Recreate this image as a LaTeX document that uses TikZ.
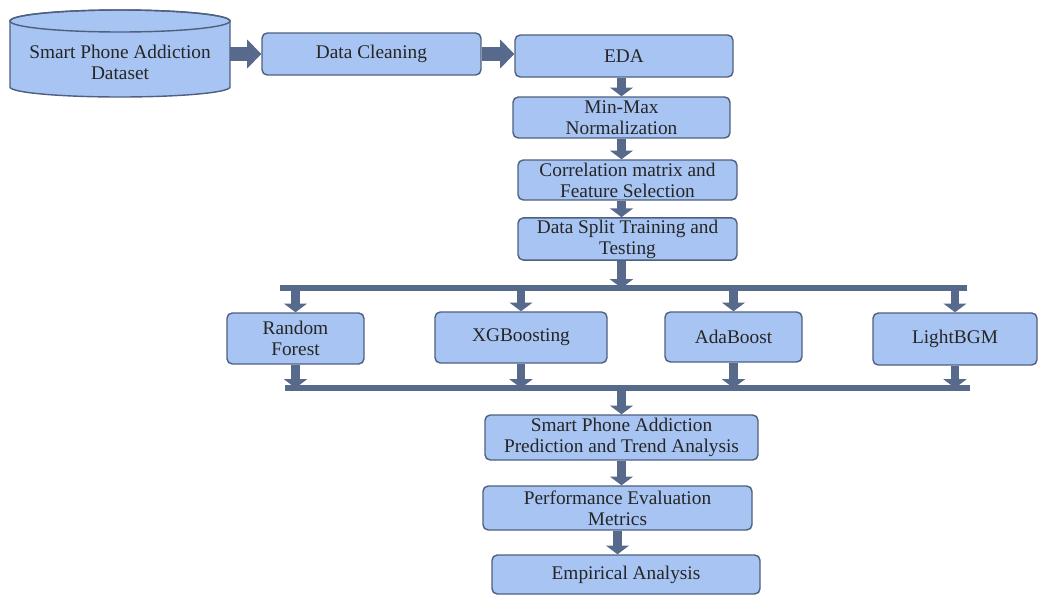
\documentclass[tikz,border=0pt]{standalone}
\usepackage{fontspec}
\setmainfont{LiberationSerif}[Extension=.ttf,UprightFont=*-Regular,BoldFont=*-Bold,ItalicFont=*-Italic,BoldItalicFont=*-BoldItalic]
\usetikzlibrary{arrows.meta,positioning,calc}
\definecolor{boxfill}{RGB}{167,196,242}
\definecolor{boxline}{RGB}{78,96,128}
\definecolor{arrowc}{RGB}{88,106,140}

\begin{document}
\begin{tikzpicture}[auto,
  box node/.style={rectangle,rounded corners=3pt,draw=boxline,line width=0.8pt,fill=boxfill,
    align=center,font=\fontsize{11}{12}\selectfont,text=black!85,inner sep=1pt},
  big arrow/.style={draw=arrowc,line width=8pt,-{Triangle[width=16pt,length=8pt]}},
  small arrow/.style={draw=arrowc,line width=5pt,-{Triangle[width=13pt,length=5pt]}},
  bus line/.style={draw=arrowc,line width=3.2pt}]
  \useasboundingbox (0,0) rectangle (20.8,-11.92);

  \filldraw[fill=boxfill,draw=boxline,line width=0.8pt] (0.2,-0.42) -- (0.2,-1.74)
    arc (180:360:2.2cm and 0.2cm) -- (4.6,-0.42) arc (0:180:2.2cm and 0.22cm) -- cycle;
  \draw[boxline,line width=0.8pt] (2.4,-0.42) ellipse (2.2cm and 0.22cm);
  \node[align=center,font=\fontsize{11}{12}\selectfont,text=black!85,minimum width=4.4cm] at (2.4,-1.24) (ds) {Smart Phone Addiction\\Dataset};

  \node[box node,minimum width=4.38cm,minimum height=0.84cm] at (7.43,-1.08) (dc) {Data Cleaning};
  \node[box node,minimum width=4.36cm,minimum height=0.84cm] at (12.48,-1.12) (eda) {EDA};
  \node[box node,minimum width=4.34cm,minimum height=0.82cm] at (12.43,-2.35) (mm) {Min-Max\\Normalization};
  \node[box node,minimum width=4.38cm,minimum height=0.8cm] at (12.55,-3.6) (corr) {Correlation matrix and\\Feature Selection};
  \node[box node,minimum width=4.38cm,minimum height=0.84cm] at (12.55,-4.78) (split) {Data Split Training and\\Testing};

  \node[box node,minimum width=2.74cm,minimum height=1.02cm] at (5.91,-6.77) (rf) {Random\\Forest};
  \node[box node,minimum width=3.44cm,minimum height=1.02cm] at (10.42,-6.75) (xgb) {XGBoosting};
  \node[box node,minimum width=2.74cm,minimum height=1cm] at (14.67,-6.74) (ada) {AdaBoost};
  \node[box node,minimum width=3.28cm,minimum height=1.04cm] at (19.1,-6.78) (lgbm) {LightBGM};

  \node[box node,minimum width=5.46cm,minimum height=0.9cm] at (12.43,-8.75) (pred) {Smart Phone Addiction\\Prediction and Trend Analysis};
  \node[box node,minimum width=5.38cm,minimum height=0.88cm] at (12.35,-10.16) (perf) {Performance Evaluation\\Metrics};
  \node[box node,minimum width=5.36cm,minimum height=0.78cm] at (12.52,-11.49) (emp) {Empirical Analysis};

  \coordinate (tbl) at (5.6,-5.76);
  \coordinate (tbr) at (19.34,-5.76);
  \coordinate (bbl) at (5.7,-7.76);
  \coordinate (bbr) at (19.4,-7.76);
  \draw[bus line] (tbl) -- (tbr);
  \draw[bus line] (bbl) -- (bbr);

  \draw[big arrow] (ds.east |- dc.west) -- (dc.west);
  \draw[big arrow] (dc.east) -- (dc.east -| eda.west);
  \draw[small arrow] (mm.north |- eda.south) -- (mm.north);
  \draw[small arrow] (mm.south) -- (mm.south |- corr.north);
  \draw[small arrow] (mm.south |- corr.south) -- (mm.south |- split.north);
  \draw[small arrow] (mm.south |- split.south) -- (mm.south |- tbl);

  \draw[small arrow] (rf.north |- tbl) -- (rf.north);
  \draw[small arrow] (xgb.north |- tbl) -- (xgb.north);
  \draw[small arrow] (ada.north |- tbl) -- (ada.north);
  \draw[small arrow] (lgbm.north |- tbl) -- (lgbm.north);

  \draw[small arrow] (rf.south) -- (rf.south |- bbl);
  \draw[small arrow] (xgb.south) -- (xgb.south |- bbl);
  \draw[small arrow] (ada.south) -- (ada.south |- bbl);
  \draw[small arrow] (lgbm.south) -- (lgbm.south |- bbl);

  \draw[small arrow] (pred.north |- bbl) -- (pred.north);
  \draw[small arrow] (pred.south) -- (pred.south |- perf.north);
  \draw[small arrow] (perf.south) -- (perf.south |- emp.north);
\end{tikzpicture}
\end{document}
